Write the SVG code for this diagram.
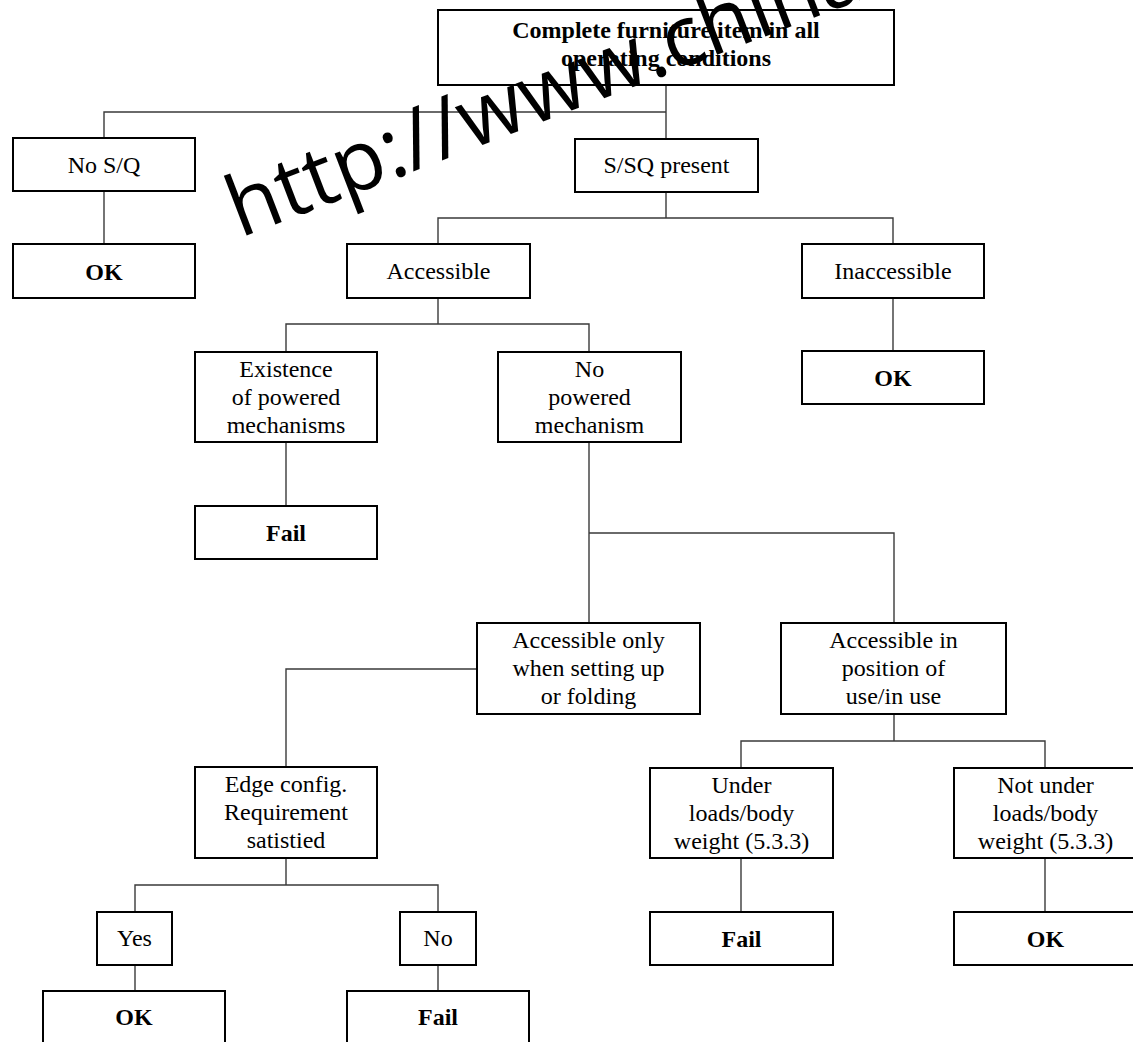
<svg xmlns="http://www.w3.org/2000/svg" width="1133" height="1042" viewBox="0 0 1133 1042">
<style>
.box{fill:#fff;stroke:#000;stroke-width:2}
.t{font-family:"Liberation Serif","Times New Roman",serif;font-size:24px;fill:#000;text-anchor:middle}
.b{font-weight:bold}
.c{fill:none;stroke:#3a3a3a;stroke-width:1.4}
.wm{font-family:"Open Sans","Noto Sans",sans-serif;font-size:84px;fill:#000}
</style>
<rect width="1133" height="1042" fill="#fff"/>
<g id="connectors">
<path class="c" d="M666,85V139M666,112H104V138"/>
<path class="c" d="M104,191V244"/>
<path class="c" d="M666,192V218H438V244M666,218H893V244"/>
<path class="c" d="M893,298V351"/>
<path class="c" d="M438,298V324H286V352M438,324H589V352"/>
<path class="c" d="M286,442V506"/>
<path class="c" d="M589,442V623M589,533H894V623"/>
<path class="c" d="M477,669H286V767"/>
<path class="c" d="M286,858V885H135V912M286,885H438V912"/>
<path class="c" d="M135,965V991"/>
<path class="c" d="M438,965V991"/>
<path class="c" d="M894,714V741H741V768M894,741H1045V768"/>
<path class="c" d="M741,858V912"/>
<path class="c" d="M1045,858V912"/>
</g>
<g id="top"><rect class="box" x="438" y="10" width="456" height="75"/><text class="t b" x="666" y="38">Complete furniture item in all</text><text class="t b" x="666" y="66">operating conditions</text></g>
<g id="nosq"><rect class="box" x="13" y="138" width="182" height="53"/><text class="t" x="104" y="173">No S/Q</text></g>
<g id="ok1"><rect class="box" x="13" y="244" width="182" height="54"/><text class="t b" x="104" y="280">OK</text></g>
<g id="ssq"><rect class="box" x="575" y="139" width="183" height="53"/><text class="t" x="666.5" y="173">S/SQ present</text></g>
<g id="acc"><rect class="box" x="347" y="244" width="183" height="54"/><text class="t" x="438.5" y="279">Accessible</text></g>
<g id="inacc"><rect class="box" x="802" y="244" width="182" height="54"/><text class="t" x="893" y="279">Inaccessible</text></g>
<g id="ok2"><rect class="box" x="802" y="351" width="182" height="53"/><text class="t b" x="893" y="386">OK</text></g>
<g id="exist"><rect class="box" x="195" y="352" width="182" height="90"/><text class="t" x="286" y="377">Existence</text><text class="t" x="286" y="405">of powered</text><text class="t" x="286" y="433">mechanisms</text></g>
<g id="nopow"><rect class="box" x="498" y="352" width="183" height="90"/><text class="t" x="589.5" y="377">No</text><text class="t" x="589.5" y="405">powered</text><text class="t" x="589.5" y="433">mechanism</text></g>
<g id="fail1"><rect class="box" x="195" y="506" width="182" height="53"/><text class="t b" x="286" y="541">Fail</text></g>
<g id="accOnly"><rect class="box" x="477" y="623" width="223" height="91"/><text class="t" x="588.5" y="648">Accessible only</text><text class="t" x="588.5" y="676">when setting up</text><text class="t" x="588.5" y="704">or folding</text></g>
<g id="accIn"><rect class="box" x="781" y="623" width="225" height="91"/><text class="t" x="893.5" y="648">Accessible in</text><text class="t" x="893.5" y="676">position of</text><text class="t" x="893.5" y="704">use/in use</text></g>
<g id="edge"><rect class="box" x="195" y="767" width="182" height="91"/><text class="t" x="286" y="792">Edge config.</text><text class="t" x="286" y="820">Requirement</text><text class="t" x="286" y="848">satistied</text></g>
<g id="under"><rect class="box" x="650" y="768" width="183" height="90"/><text class="t" x="741.5" y="793">Under</text><text class="t" x="741.5" y="821">loads/body</text><text class="t" x="741.5" y="849">weight (5.3.3)</text></g>
<g id="notunder"><rect class="box" x="954" y="768" width="183" height="90"/><text class="t" x="1045.5" y="793">Not under</text><text class="t" x="1045.5" y="821">loads/body</text><text class="t" x="1045.5" y="849">weight (5.3.3)</text></g>
<g id="yes"><rect class="box" x="97" y="912" width="75" height="53"/><text class="t" x="134.5" y="946">Yes</text></g>
<g id="no"><rect class="box" x="400" y="912" width="76" height="53"/><text class="t" x="438" y="946">No</text></g>
<g id="ok3"><rect class="box" x="43" y="991" width="182" height="53"/><text class="t b" x="134" y="1025">OK</text></g>
<g id="fail2"><rect class="box" x="347" y="991" width="182" height="53"/><text class="t b" x="438" y="1025">Fail</text></g>
<g id="fail3"><rect class="box" x="650" y="912" width="183" height="53"/><text class="t b" x="741.5" y="947">Fail</text></g>
<g id="ok4"><rect class="box" x="954" y="912" width="183" height="53"/><text class="t b" x="1045.5" y="947">OK</text></g>
<text class="wm" transform="translate(240,238) rotate(-21)">http://www.china</text>
</svg>
